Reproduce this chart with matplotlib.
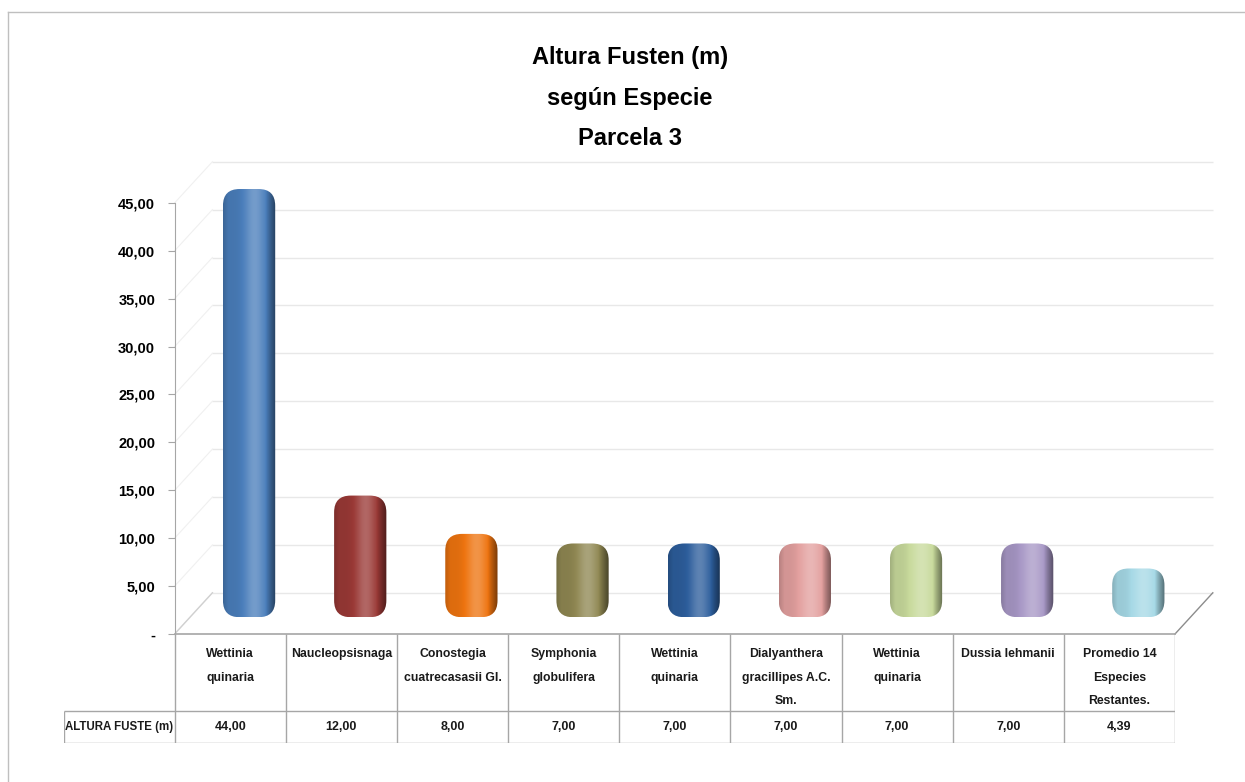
# Altura de fuste por especie, parcela 3 (barras "3D" redondeadas + tabla de datos)
import numpy as np
import matplotlib.pyplot as plt
from matplotlib.patches import FancyBboxPatch
from matplotlib.colors import to_rgb

# datos
especies = ['Wettinia\nquinaria', 'Naucleopsisnaga', 'Conostegia\ncuatrecasasii Gl.',
            'Symphonia\nglobulifera', 'Wettinia\nquinaria', 'Dialyanthera\ngracillipes A.C.\nSm.',
            'Wettinia\nquinaria', 'Dussia lehmanii', 'Promedio 14\nEspecies\nRestantes.']
altura = [44.00, 12.00, 8.00, 7.00, 7.00, 7.00, 7.00, 7.00, 4.39]
colores = ['#4A7EBB', '#9A3936', '#EE7410', '#8F8752', '#2D5E9C',
           '#E3A09F', '#C8DA9C', '#A898C6', '#A6D9E6']
serie = 'ALTURA FUSTE (m)'
titulo = 'Altura Fusten (m)\nsegún Especie\nParcela 3'
yticks = np.arange(0, 46, 5)

plt.rcParams['font.family'] = ['Liberation Sans', 'DejaVu Sans']

W, H = 1245, 782
fig = plt.figure(figsize=(W / 100, H / 100), dpi=100)

# ejes principales (plano frontal)
x0, x1 = 174.6, 1175
y0, ymax_px = 634, 155
ax = fig.add_axes([x0 / W, (H - y0) / H, (x1 - x0) / W, (y0 - ymax_px) / H])
ax.set_xlim(-0.5, 8.5)
ax.set_ylim(0, 50)
for s in ['top', 'right', 'bottom']:
    ax.spines[s].set_visible(False)
ax.spines['left'].set_bounds(0, 45)
ax.spines['left'].set_color('#A6A6A6')
ax.set_xticks([])
ax.set_yticks(yticks)
ax.set_yticklabels(['-' if t == 0 else f'{t:.2f}'.replace('.', ',') for t in yticks],
                   fontsize=10.5, fontweight='bold')
ax.tick_params(axis='y', length=5, color='#A6A6A6', pad=9)

# profundidad del efecto 3D
dxw, dyw = 0.34, 4.3      # pared del fondo
dxb, dyb = 0.17, 1.75     # base de las barras

ax.hlines(yticks + dyw, -0.5 + dxw, 8.5 + dxw, color='#E8E8E8', lw=1, zorder=1, clip_on=False)
for t in yticks:
    ax.plot([-0.5, -0.5 + dxw], [t, t + dyw], color='#F0F0F0', lw=0.8, zorder=1, clip_on=False)
ax.plot([-0.5, -0.5 + dxw], [0, dyw], color='#D0D0D0', lw=1, zorder=1)
ax.plot([8.5, 8.5 + dxw], [0, dyw], color='#8C8C8C', lw=1, zorder=1, clip_on=False)
ax.plot([-0.5, 8.5], [0, 0], color='#A6A6A6', lw=1.2, zorder=2, clip_on=False)

# barras redondeadas con sombreado
bbox = ax.get_position()
asp = (bbox.width * W / 9) / (bbox.height * H / 50)
t = np.linspace(0, 1, 80)
m = 0.93 + 0.3 * np.exp(-((t - 0.6) / 0.2) ** 2) - 0.42 * np.clip((t - 0.8) / 0.2, 0, 1) \
    - 0.12 * np.clip((0.1 - t) / 0.1, 0, 1)
ancho, r = 0.47, 0.15
for i, (v, c) in enumerate(zip(altura, colores)):
    base = np.array(to_rgb(c))
    img = np.empty((2, len(t), 3))
    for k, mk in enumerate(m):
        if mk >= 1:
            img[:, k] = base + (1 - base) * (mk - 1)
        else:
            img[:, k] = base * mk
    xl = i + dxb - ancho / 2
    yb = dyb
    h = v + 0.7
    patch = FancyBboxPatch((xl, yb), ancho, h, boxstyle=f'round,pad=0,rounding_size={r}',
                           mutation_aspect=asp, fc='none', ec='none', transform=ax.transData)
    ax.add_patch(patch)
    im = ax.imshow(np.clip(img, 0, 1), extent=(xl, xl + ancho, yb, yb + h), aspect='auto',
                   zorder=3, interpolation='bilinear')
    im.set_clip_path(patch)
ax.set_xlim(-0.5, 8.5)
ax.set_ylim(0, 50)

# tabla de datos
tb = fig.add_axes([63.5 / W, (H - 743) / H, (x1 - 63.5) / W, (743 - 634) / H])
tb.set_xlim(-1.5, 8.5)
tb.set_ylim(0, 109)
tb.axis('off')
lc = '#A6A6A6'
tb.vlines(np.arange(-0.5, 9, 1), 0, 109, color=lc, lw=1)
tb.vlines(-1.5, 0, 32, color=lc, lw=1)
tb.hlines([0, 32], -1.5, 8.5, color=lc, lw=1)
for i, (e, v) in enumerate(zip(especies, altura)):
    tb.text(i, 95, e, ha='center', va='top', fontsize=8.8, fontweight='bold',
            linespacing=2.3, color='#1A1A1A')
    tb.text(i, 16, f'{v:.2f}'.replace('.', ','), ha='center', va='center',
            fontsize=9, fontweight='bold', color='#1A1A1A')
tb.text(-1, 16, serie, ha='center', va='center', fontsize=8.3, fontweight='bold', color='#1A1A1A')

# titulo
fig.text(630 / W, 1 - 98 / H, titulo, ha='center', va='center', fontsize=17,
         fontweight='bold', linespacing=1.95)

# marco
fig.add_artist(plt.Line2D([8 / W, 1], [1 - 12 / H, 1 - 12 / H], color='#BFBFBF', lw=1))
fig.add_artist(plt.Line2D([8 / W, 8 / W], [0, 1 - 12 / H], color='#BFBFBF', lw=1))

fig.savefig('out.png', dpi=100)
